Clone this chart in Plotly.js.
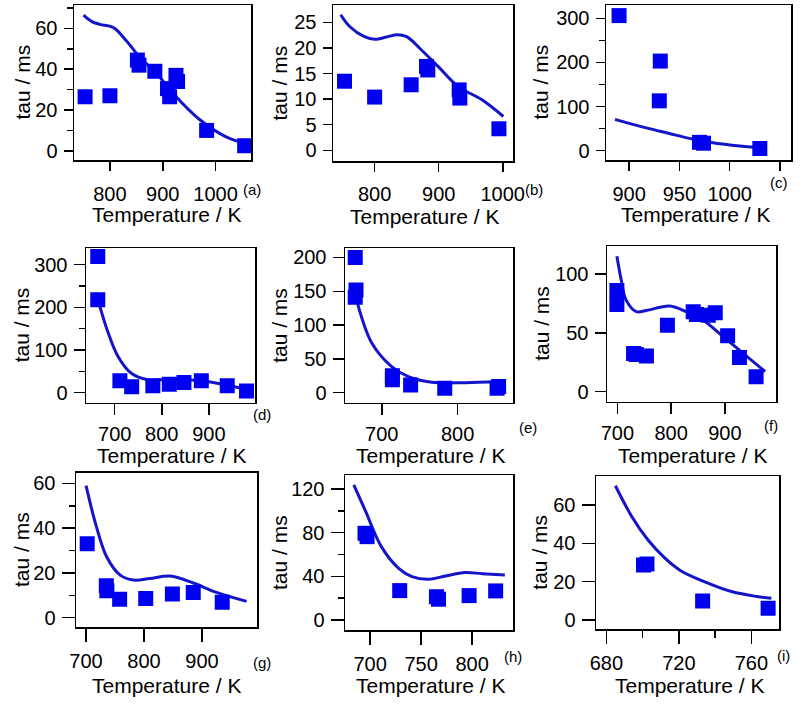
<!DOCTYPE html>
<html><head><meta charset="utf-8">
<script src="https://cdn.plot.ly/plotly-3.0.1.min.js"></script>
<style>html,body{margin:0;padding:0;background:#fff}#chart{width:800px;height:707px}</style>
</head><body><div id="chart"></div>
<script>
// ---- data ----
const panelLabels = ['(a)','(b)','(c)','(d)','(e)','(f)','(g)','(h)','(i)'];
const xTitle = 'Temperature / K';
const yTitle = 'tau / ms';

const aT   = [753, 800, 852, 855, 885, 909, 913, 925, 928, 983, 1055];
const aTau = [26.5, 27, 44.5, 42, 39, 30.5, 26.5, 37, 34, 10, 2.5];
const aFitT   = [750, 765, 781, 806, 831, 856, 888, 920, 969, 1019, 1057];
const aFitTau = [66.5, 63.5, 62, 60.5, 54, 46, 38, 28, 15.5, 7, 3.6];

const bT   = [753, 800, 857, 881, 883, 932, 933, 994];
const bTau = [13.5, 10.4, 12.8, 16.4, 15.7, 11.8, 10.2, 4.2];
const bFitT   = [747, 761, 784, 800, 820, 835, 850, 873, 899, 930, 967, 1001];
const bFitTau = [26.5, 24.2, 22.2, 21.7, 22.2, 22.6, 22.2, 19.6, 16.4, 12.5, 9.9, 6.6];

const cT   = [890, 931, 930, 970, 974, 1030];
const cTau = [306, 203, 113, 19, 17, 5];
const cFitT   = [886, 900, 920, 940, 960, 980, 1000, 1015, 1030];
const cFitTau = [71, 62, 50, 39, 28, 19, 13, 9.5, 7];

const dT   = [664, 664, 711, 736, 781, 816, 847, 884, 939, 980];
const dTau = [319, 218, 28, 14, 16, 20, 24, 28, 16, 4];
const dFitT   = [660, 684, 707, 736, 772, 815, 884, 941, 984];
const dFitTau = [235, 147, 85, 45, 30, 31, 28, 17, 7];

const eT   = [665, 666, 665, 714, 714, 738, 783, 852, 854];
const eTau = [200, 152, 141, 25, 19, 11.5, 6.5, 6.5, 9];
const eFitT   = [668, 687, 713, 735, 766, 810, 854];
const eFitTau = [132, 73, 38.5, 23.7, 15.4, 14.8, 16];

const fT   = [699, 699, 730, 735, 754, 793, 841, 847, 869, 882, 905, 927, 958];
const fTau = [86, 74, 32.5, 31.7, 30.3, 56.5, 68, 65.6, 65, 67, 47.5, 29, 12.7];
const fFitT   = [699, 707, 716, 735, 754, 797, 828, 859, 897, 934, 975];
const fFitTau = [115, 95, 78, 68, 69, 72.8, 68, 61, 46.7, 32.6, 17];

const gT   = [702, 735, 736, 758, 803, 849, 885, 935];
const gTau = [33, 14.3, 12, 8.2, 8.6, 10.6, 11.2, 6.9];
const gFitT   = [700, 718, 736, 759, 782, 810, 845, 885, 925, 977];
const gFitTau = [59, 40.6, 27, 19, 16.8, 17.5, 18.6, 15.5, 11.3, 7.3];

const hT   = [695, 697, 729, 765, 767, 797, 823];
const hTau = [79.4, 76.3, 26.9, 21.3, 19, 22.3, 26.6];
const hFitT   = [684, 695, 711, 728, 741, 757, 774, 793, 810, 832];
const hFitTau = [123.7, 100.8, 67.2, 47.3, 39.7, 37.3, 40.3, 43.4, 42.4, 41.2];

const iT   = [700.5, 702.4, 733.1, 769.2];
const iTau = [28.7, 29.2, 9.9, 6.1];
const iFitT   = [685, 694, 703, 712, 721, 734, 749, 763, 771];
const iFitTau = [70, 54, 41.7, 32.5, 25.7, 20, 14.8, 12.2, 11.3];

const seriesT    = [aT, bT, cT, dT, eT, fT, gT, hT, iT];
const seriesTau  = [aTau, bTau, cTau, dTau, eTau, fTau, gTau, hTau, iTau];
const fitT       = [aFitT, bFitT, cFitT, dFitT, eFitT, fFitT, gFitT, hFitT, iFitT];
const fitTau     = [aFitTau, bFitTau, cFitTau, dFitTau, eFitTau, fFitTau, gFitTau, hFitTau, iFitTau];

// ---- layout geometry (pixels) ----
const W = 800, H = 707;
const frames = [
  [74, 251, 5, 160], [333, 513, 5, 161], [606, 791, 5, 160],
  [86, 255, 248, 402.7], [345, 513, 248, 402.7], [607, 776, 246, 401.7],
  [76, 257, 472.7, 627.3], [345, 513, 475, 630], [596, 779, 476, 629.3]
];
const xr = [[732,1067],[735,1016],[877,1061],[639,998],[651.5,873],[680.6,995],[682.7,995],[675.4,840],[674.3,775.2]];
const yr = [[-4.5,71.5],[-2.1,28.4],[-21,330],[-23.5,339],[-14.8,214],[-8.5,123.8],[-4.3,64.8],[-9.2,132.8],[-4.9,75.1]];
const xd = [100,100,50,100,100,100,100,50,40];
const xminor = [0,0,0,0,0,0,0,0,20];
const yd = [20,5,100,100,50,50,20,40,20];
const yminor = [10,0,50,50,0,0,10,20,0];
const tickLen = [9,9,9,11,11,11,13,13,13];
const xStandoff = [6,5,6,2,2,2,2,2,2];
const yTitleX = [22, 279.5, 540, 21, 279.5, 542, 21, 279.5, 540];
const xTitleX = [166, 424, 695, 171, 430, 692.5, 166, 430, 689];
const xTitleY = [214, 216, 214, 456, 456, 456, 685, 685, 685];
const labelPos = [[252,189],[534,190],[779,182],[262,415],[528,427],[771,425],[262,662],[513,656],[783,655]];

const font = 'Liberation Sans, Arial, Helvetica, sans-serif';
const traces = [];
const layout = {
  width: W, height: H, margin: {l:0, r:0, t:0, b:0},
  paper_bgcolor: '#fff', plot_bgcolor: '#fff', showlegend: false,
  font: {family: font, size: 20, color: '#000'},
  annotations: []
};
const px = v => v / W, py = v => 1 - v / H;

for (let k = 0; k < 9; k++) {
  const s = k === 0 ? '' : String(k + 1);
  const f = frames[k];
  traces.push({x: fitT[k], y: fitTau[k], xaxis: 'x' + s, yaxis: 'y' + s, type: 'scatter', mode: 'lines',
    line: {color: '#1414c8', width: 3, shape: 'spline'}, hoverinfo: 'skip'});
  traces.push({x: seriesT[k], y: seriesTau[k], xaxis: 'x' + s, yaxis: 'y' + s, type: 'scatter', mode: 'markers',
    marker: {symbol: 'square', size: 15, color: '#0000f0', line: {width: 0}}});
  const common = {showgrid: false, zeroline: false, showline: true, mirror: true, linecolor: '#000', linewidth: 1.5,
    ticks: 'outside', tickcolor: '#000', tickwidth: 1.5, ticklen: tickLen[k], tickfont: {family: font, size: 20, color: '#000'}};
  layout['xaxis' + s] = Object.assign({}, common, {
    domain: [px(f[0]), px(f[1])], range: xr[k], dtick: xd[k], tick0: 0, anchor: 'y' + s,
    ticklabelstandoff: xStandoff[k],
    minor: xminor[k] ? {dtick: xminor[k], tick0: 0, ticks: 'outside', ticklen: 7, tickcolor: '#000', tickwidth: 1.5} : undefined
  });
  layout['yaxis' + s] = Object.assign({}, common, {
    domain: [py(f[3]), py(f[2])], range: yr[k], dtick: yd[k], tick0: 0, anchor: 'x' + s,
    ticklabelstandoff: 2,
    minor: yminor[k] ? {dtick: yminor[k], tick0: 0, ticks: 'outside', ticklen: 6, tickcolor: '#000', tickwidth: 1.5} : undefined
  });
  const yc = (f[2] + f[3]) / 2;
  layout.annotations.push({text: yTitle, xref: 'paper', yref: 'paper', x: px(yTitleX[k]), y: py(yc),
    xanchor: 'center', yanchor: 'middle', textangle: -90, showarrow: false, font: {family: font, size: 21, color: '#000'}});
  layout.annotations.push({text: xTitle, xref: 'paper', yref: 'paper', x: px(xTitleX[k]), y: py(xTitleY[k]),
    xanchor: 'center', yanchor: 'middle', showarrow: false, font: {family: font, size: 21, color: '#000'}});
  layout.annotations.push({text: panelLabels[k], xref: 'paper', yref: 'paper', x: px(labelPos[k][0]), y: py(labelPos[k][1]),
    xanchor: 'center', yanchor: 'middle', showarrow: false, font: {family: font, size: 15, color: '#000'}});
}

Plotly.newPlot('chart', traces, layout, {staticPlot: true, displayModeBar: false});
</script>
</body></html>
